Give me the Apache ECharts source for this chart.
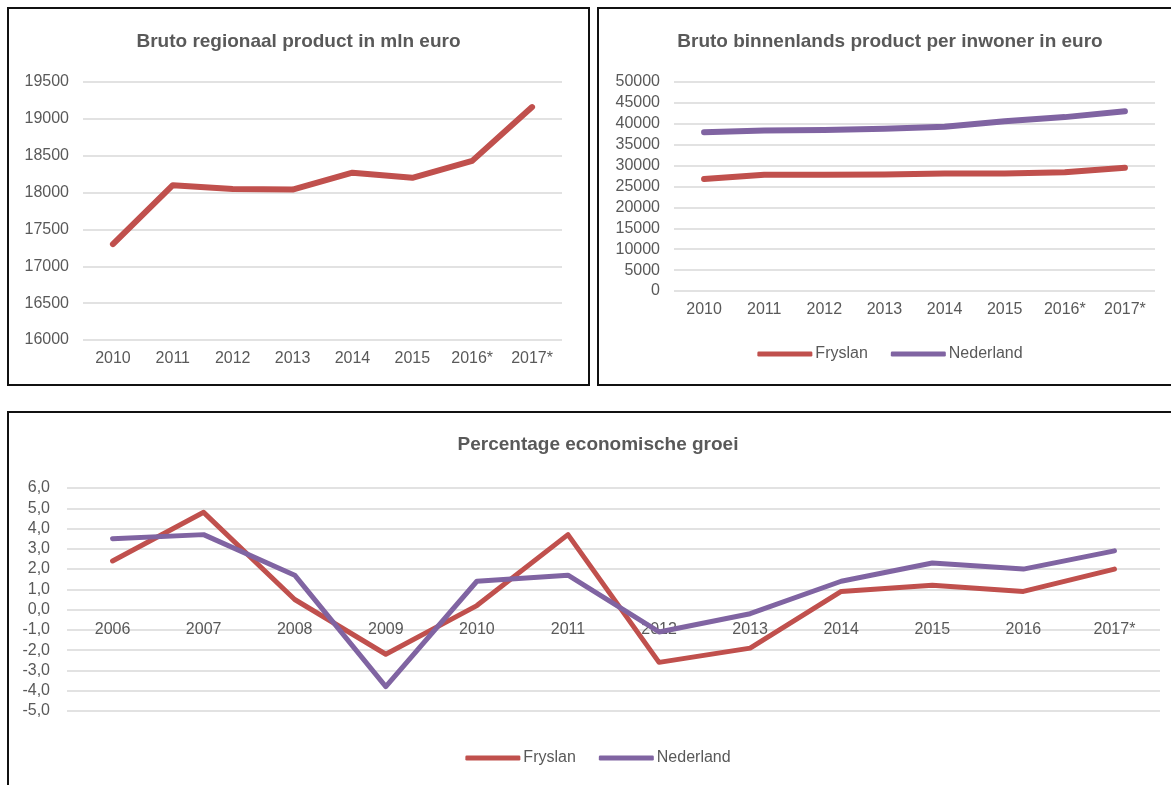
<!DOCTYPE html>
<html>
<head>
<meta charset="utf-8">
<script src="https://cdn.jsdelivr.net/npm/echarts@6/dist/echarts.min.js"></script>
<style>
    body { margin: 0; background: #fff; overflow: hidden; }
    .box { position: absolute; border: 2px solid #111; background: #fff; }
    #table1 { left: 7px; top: 7px; width: 579px; height: 375px; }
    #table2 { left: 597px; top: 7px; width: 582px; height: 375px; }
    #table3 { left: 7px; top: 411px; width: 1178px; height: 400px; }
</style>
</head>
<body>
<div id="table1" class="box"></div>
<div id="table2" class="box"></div>
<div id="table3" class="box"></div>
<script>
// data
var years1 = ['2010', '2011', '2012', '2013', '2014', '2015', '2016*', '2017*'];
var brpValues = [17300, 18100, 18050, 18040, 18270, 18200, 18430, 19160];

var bbpFryslan = [26800, 27800, 27800, 27900, 28100, 28100, 28400, 29500];
var bbpNederland = [38000, 38400, 38500, 38800, 39300, 40600, 41600, 43000];

var years3 = ['2006', '2007', '2008', '2009', '2010', '2011', '2012', '2013', '2014', '2015', '2016', '2017*'];
var groeiFryslan = [2.4, 4.8, 0.5, -2.2, 0.2, 3.7, -2.6, -1.9, 0.9, 1.2, 0.9, 2.0];
var groeiNederland = [3.5, 3.7, 1.7, -3.8, 1.4, 1.7, -1.1, -0.2, 1.4, 2.3, 2.0, 2.9];

var RED = '#C0504D';
var PURPLE = '#8064A2';
var TXT = '#595959';
var GRID = '#D9D9D9';
var FONT = '"Liberation Sans", Arial, sans-serif';

function lineSerie(name, data, color, width) {
    return {
        name: name,
        type: 'line',
        data: data,
        showSymbol: false,
        symbol: 'none',
        color: color,
        lineStyle: { color: color, width: width, cap: 'round', join: 'round' },
        emphasis: { disabled: true }
    };
}

function yAxisStyle(min, max, interval, margin, fmt) {
    return {
        type: 'value',
        min: min,
        max: max,
        interval: interval,
        axisLine: { show: false },
        axisTick: { show: false },
        axisLabel: {
            color: TXT, fontSize: 16, fontFamily: FONT, margin: margin,
            formatter: fmt || function (v) { return String(v); }
        },
        splitLine: { lineStyle: { color: GRID, width: 1.5 } }
    };
}

function xAxisStyle(cats, margin, offset) {
    return {
        type: 'category',
        data: cats,
        boundaryGap: true,
        offset: offset || 0,
        axisLine: { show: false, onZero: false },
        axisTick: { show: false },
        axisLabel: { color: TXT, fontSize: 16, fontFamily: FONT, margin: margin, interval: 0 }
    };
}

function titleStyle(text, top) {
    return {
        text: text,
        left: 'center',
        top: top,
        textStyle: { color: TXT, fontSize: 19, fontWeight: 'bold', fontFamily: FONT }
    };
}

function legendStyle(top) {
    return {
        top: top,
        left: 'center',
        icon: 'roundRect',
        itemWidth: 55,
        itemHeight: 5,
        itemGap: 23,
        textStyle: { color: TXT, fontSize: 16, fontFamily: FONT, padding: [0, 0, 0, -2] },
        data: ['Fryslan', 'Nederland']
    };
}

//table1
var chart1 = echarts.init(document.getElementById('table1'));
chart1.setOption({
    animation: false,
    title: titleStyle('Bruto regionaal product in mln euro', 18),
    grid: { left: 74, right: 26, top: 73, bottom: 44 },
    xAxis: xAxisStyle(years1, 11),
    yAxis: yAxisStyle(16000, 19500, 500, 14),
    series: [lineSerie('Bruto regionaal product', brpValues, RED, 6)]
});

//table2
var chart2 = echarts.init(document.getElementById('table2'));
chart2.setOption({
    animation: false,
    title: titleStyle('Bruto binnenlands product per inwoner in euro', 18),
    legend: legendStyle(332),
    grid: { left: 75, right: 26, top: 73, bottom: 93 },
    xAxis: xAxisStyle(years1, 11),
    yAxis: yAxisStyle(0, 50000, 5000, 14),
    series: [
        lineSerie('Fryslan', bbpFryslan, RED, 6),
        lineSerie('Nederland', bbpNederland, PURPLE, 6)
    ]
});

//table3 - category labels sit just under the 0,0 line, as in Excel
var chart3 = echarts.init(document.getElementById('table3'));
chart3.setOption({
    animation: false,
    title: titleStyle('Percentage economische groei', 17),
    legend: legendStyle(332),
    grid: { left: 58, right: 27, top: 75, bottom: 102 },
    xAxis: xAxisStyle(years3, 12, -101),
    yAxis: yAxisStyle(-5, 6, 1, 17, function (v) {
        var r = Math.round(v * 10) / 10;
        if (r === 0) r = 0;
        return r.toFixed(1).replace('.', ',');
    }),
    series: [
        lineSerie('Fryslan', groeiFryslan, RED, 5),
        lineSerie('Nederland', groeiNederland, PURPLE, 5)
    ]
});

window.addEventListener('resize', function () {
    chart1.resize();
    chart2.resize();
    chart3.resize();
});
</script>
</body>
</html>
